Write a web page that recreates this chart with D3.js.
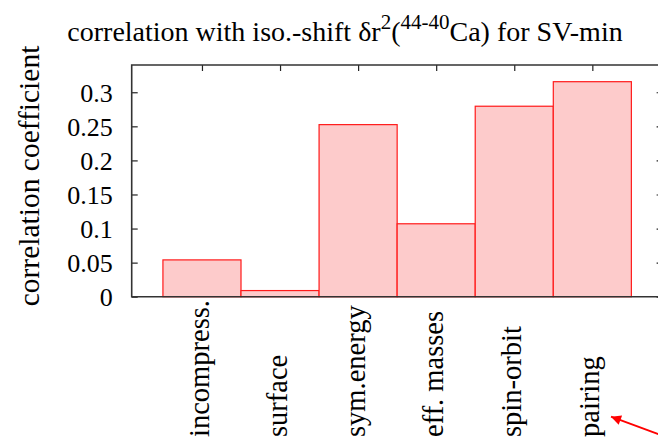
<!DOCTYPE html>
<html>
<head>
<meta charset="utf-8">
<script src="https://cdn.jsdelivr.net/npm/d3@7/dist/d3.min.js"></script>
<style>
  html, body { margin: 0; padding: 0; background: #fff; }
  svg text { font-family: "Liberation Serif", "Times New Roman", serif; fill: #000; }
</style>
</head>
<body>
<svg id="chart" width="658" height="440"></svg>
<script>
// Correlation of each SV-min parameter group with the 44-40Ca isotope shift
const categories = ["incompress.", "surface", "sym.energy", "eff. masses", "spin-orbit", "pairing"];
const positions = [1, 2, 3, 4, 5, 6];
const values = [0.054, 0.009, 0.2525, 0.107, 0.2795, 0.3155];
const yTicks = [0, 0.05, 0.1, 0.15, 0.2, 0.25, 0.3];
const yTickLabels = ["0", "0.05", "0.1", "0.15", "0.2", "0.25", "0.3"];

const svg = d3.select("#chart");
const plotLeft = 131.7, plotRight = 662.6, plotTop = 65, plotBottom = 296.7;

const x = d3.scaleLinear().domain([0.1, 6.9]).range([plotLeft, plotRight]);
const y = d3.scaleLinear().domain([0, 0.34]).range([plotBottom, plotTop]);

// Inward ticks on all four sides
const tickStyle = g => {
  g.select(".domain").remove();
  g.selectAll(".tick line").attr("stroke", "#222").attr("stroke-width", 1.2);
  g.selectAll("text").attr("font-size", 26).attr("font-family", null);
};

svg.append("g")
  .attr("transform", `translate(${plotLeft},0)`)
  .call(d3.axisLeft(y).tickValues(yTicks)
    .tickFormat((d, i) => yTickLabels[i])
    .tickSizeInner(-6).tickSizeOuter(0).tickPadding(19))
  .call(tickStyle)
  .call(g => g.selectAll("text").attr("dy", "0.34em"));

svg.append("g")
  .attr("transform", `translate(${plotRight},0)`)
  .call(d3.axisRight(y).tickValues(yTicks).tickFormat("")
    .tickSizeInner(-6).tickSizeOuter(0))
  .call(tickStyle);

svg.append("g")
  .attr("transform", `translate(0,${plotTop})`)
  .call(d3.axisTop(x).tickValues(positions).tickFormat("")
    .tickSizeInner(-6).tickSizeOuter(0))
  .call(tickStyle);

svg.append("g")
  .attr("transform", `translate(0,${plotBottom})`)
  .call(d3.axisBottom(x).tickValues(positions).tickFormat("")
    .tickSizeInner(-6).tickSizeOuter(0))
  .call(tickStyle);

// Bars (unit width, centred on each position)
svg.append("g").selectAll("rect")
  .data(values)
  .join("rect")
  .attr("x", (d, i) => x(positions[i] - 0.5))
  .attr("width", (d, i) => x(positions[i] + 0.5) - x(positions[i] - 0.5))
  .attr("y", d => y(d))
  .attr("height", d => y(0) - y(d))
  .attr("fill", "#fdcbcb")
  .attr("stroke", "#ff1a1a")
  .attr("stroke-width", 1.2);

// Frame
svg.append("path")
  .attr("d", `M${plotRight},${plotTop}H${plotLeft}V${plotBottom}H${plotRight}`)
  .attr("fill", "none")
  .attr("stroke", "#333")
  .attr("stroke-width", 1.6);

// Rotated category labels, reading upward from a common start line
svg.append("g").selectAll("text")
  .data(categories)
  .join("text")
  .attr("transform", (d, i) => `translate(${x(positions[i]) + 7},437) rotate(-90)`)
  .attr("text-anchor", "start")
  .attr("font-size", 28.5)
  .text(d => d);

// Axis title
svg.append("text")
  .attr("transform", "translate(39,176) rotate(-90)")
  .attr("text-anchor", "middle")
  .attr("font-size", 29.5)
  .text("correlation coefficient");

// Chart title with superscripts
const title = svg.append("text")
  .attr("x", 345).attr("y", 41)
  .attr("text-anchor", "middle")
  .attr("font-size", 28);
title.append("tspan").text("correlation with iso.-shift δr");
title.append("tspan").attr("font-size", 21).attr("dy", -12).text("2");
title.append("tspan").attr("dy", 12).text("(");
title.append("tspan").attr("font-size", 21).attr("dy", -12).text("44-40");
title.append("tspan").attr("dy", 12).text("Ca) for SV-min");

// Arrow pointing at the pairing label
svg.append("defs").append("marker")
  .attr("id", "head")
  .attr("viewBox", "0 0 10 10")
  .attr("refX", 10).attr("refY", 5)
  .attr("markerWidth", 11).attr("markerHeight", 10)
  .attr("markerUnits", "userSpaceOnUse")
  .attr("orient", "auto")
  .append("path")
  .attr("d", "M0,0L10,5L0,10Z")
  .attr("fill", "#ff0000");

svg.append("line")
  .attr("x1", 662).attr("y1", 435.5)
  .attr("x2", 611).attr("y2", 416.7)
  .attr("stroke", "#ff0000")
  .attr("stroke-width", 1.8)
  .attr("marker-end", "url(#head)");
</script>
</body>
</html>
